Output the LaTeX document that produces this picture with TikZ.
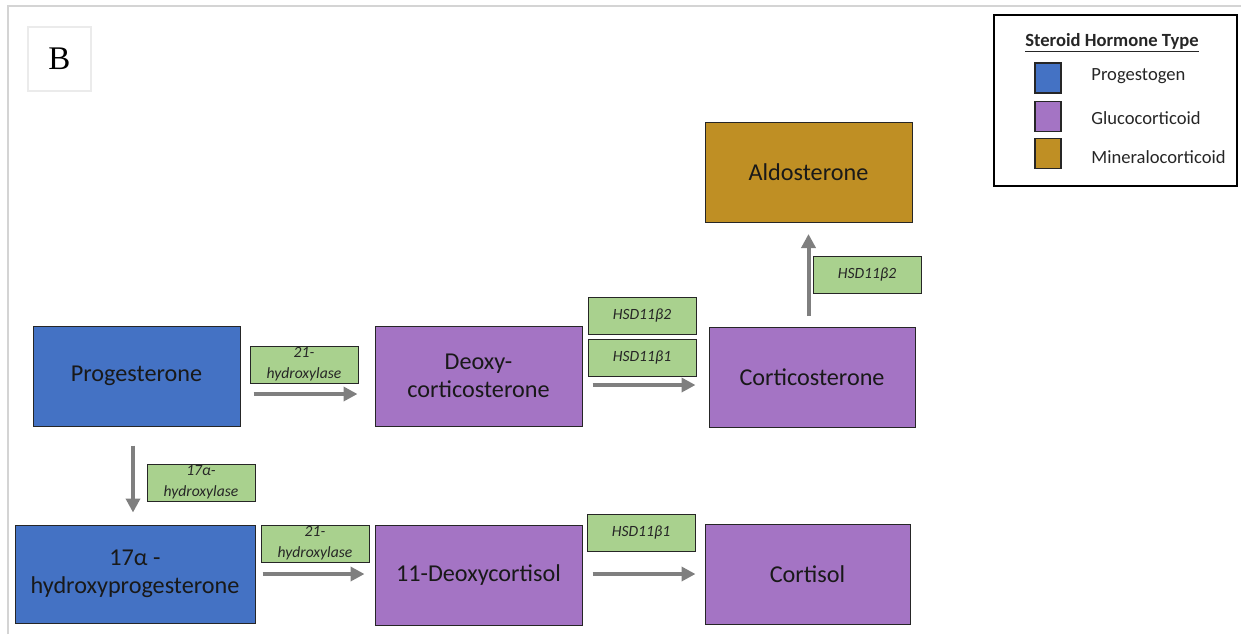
\documentclass[tikz,border=0pt]{standalone}
\usepackage{fontspec}
\setmainfont{Carlito}
\newfontfamily\serifB{Liberation Serif}
\usetikzlibrary{arrows.meta}

\definecolor{progblue}{HTML}{4472C4}
\definecolor{glucopurple}{HTML}{A474C4}
\definecolor{mineralgold}{HTML}{BF8F24}
\definecolor{enzgreen}{HTML}{A9D18E}
\definecolor{flowgray}{HTML}{7F7F7F}
\definecolor{framegray}{HTML}{D4D4D4}

\begin{document}
\begin{tikzpicture}[x=0.5pt,y=-0.5pt,
  hormone/.style={draw=black!85,line width=0.5pt,minimum width=103.5pt,minimum height=50pt,
    align=center,inner sep=1pt,text=black!90,font=\fontsize{12.1}{13.8}\selectfont},
  enzyme/.style={draw=black!85,line width=0.5pt,fill=enzgreen,minimum width=54pt,minimum height=18.5pt,
    align=center,inner sep=0pt,text=black!85,font=\fontsize{7.8}{10.5}\selectfont\itshape},
  swatch/.style={draw=black!85,line width=0.6pt,minimum width=13pt,minimum height=15pt,inner sep=0pt},
  legendtext/.style={anchor=west,inner sep=0pt,text=black!85,font=\fontsize{9.3}{11}\selectfont},
  flow/.style={draw=flowgray,line width=2pt,-{Triangle[length=7pt,width=7pt]}}]
	\useasboundingbox (0,0) rectangle (1241,634);
	% frame of the panel
	\draw [framegray, line width=1pt] (8,634) -- (8,6) -- (1241,6);
	\node [draw=black!8, line width=0.6pt, minimum width=31.5pt, minimum height=32pt] (panel) at (59.5,59) {\serifB\fontsize{16.5}{18}\selectfont B};

	% legend
	\node [draw=black, line width=0.7pt, minimum width=121.5pt, minimum height=85.5pt] (legend) at (1115.5,100.5) {};
	\node [inner sep=0pt, text=black!85, font=\fontsize{9.3}{11}\selectfont\bfseries] (legtitle) at (1112,43) {\underline{Steroid Hormone Type}};
	\node [swatch, fill=progblue] (swP) at (1048,78) {};
	\node [swatch, fill=glucopurple] (swG) at (1048,116.5) {};
	\node [swatch, fill=mineralgold] (swM) at (1048,153.5) {};
	\node [legendtext] (lbP) at (1091,76) {Progestogen};
	\node [legendtext] (lbG) at (1091,118) {Glucocorticoid};
	\node [legendtext] (lbM) at (1091,157) {Mineralocorticoid};

	% hormones
	\node [hormone, fill=mineralgold] (aldo) at (808.5,172.5) {Aldosterone};
	\node [hormone, fill=progblue] (prog) at (136.5,376) {Progesterone};
	\node [hormone, fill=glucopurple] (deoxy) at (478.5,376) {Deoxy-\\corticosterone};
	\node [hormone, fill=glucopurple, minimum width=103pt] (cortico) at (812,377.5) {Corticosterone};
	\node [hormone, fill=progblue, minimum width=120pt, minimum height=49pt] (hydroxy) at (135,574) {17α -\\hydroxyprogesterone};
	\node [hormone, fill=glucopurple] (deoxycortisol) at (478.5,575) {11-Deoxycortisol};
	\node [hormone, fill=glucopurple, minimum width=102.5pt] (cortisol) at (807.5,574.5) {Cortisol};

	% enzymes
	\node [enzyme] (hydA) at (304,364.5) {21-\\hydroxylase};
	\node [enzyme] (hsdA) at (642,315.5) {HSD11β2};
	\node [enzyme] (hsdB) at (642,357.5) {HSD11β1};
	\node [enzyme] (hsdC) at (867,275) {HSD11β2};
	\node [enzyme] (hydB) at (201,482.5) {17α-\\hydroxylase};
	\node [enzyme] (hydC) at (315,543.5) {21-\\hydroxylase};
	\node [enzyme] (hsdD) at (641,533) {HSD11β1};

	% reactions
	\draw [flow, shorten <=6.5pt, shorten >=8.5pt] ([yshift=-9pt]prog.east) -- ([yshift=-9pt]deoxy.west);
	\draw [flow, shorten <=5pt, shorten >=6.5pt] ([yshift=-4.5pt]deoxy.east) -- ([yshift=-4.5pt]deoxy.east -| cortico.west);
	\draw [flow, shorten <=5.5pt, shorten >=5.5pt] (aldo.south |- cortico.north) -- (aldo.south);
	\draw [flow, shorten <=9.5pt, shorten >=6pt] ([xshift=-1.75pt]prog.south) -- ([xshift=-1.75pt]prog.south |- hydroxy.north);
	\draw [flow, shorten <=3.5pt, shorten >=5pt] (hydroxy.east) -- (hydroxy.east -| deoxycortisol.west);
	\draw [flow, shorten <=5pt, shorten >=4.5pt] ([yshift=0.5pt]deoxycortisol.east) -- ([yshift=0.5pt]deoxycortisol.east -| cortisol.west);
\end{tikzpicture}
\end{document}
